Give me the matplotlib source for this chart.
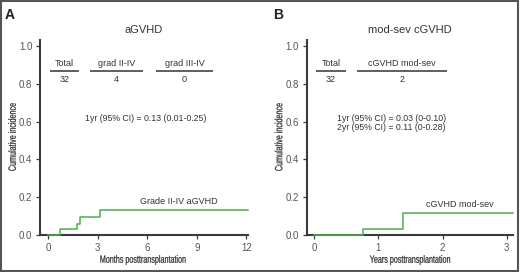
import matplotlib.pyplot as plt
from matplotlib.patches import Rectangle, PathPatch
from matplotlib.textpath import TextPath
from matplotlib.font_manager import FontProperties
from matplotlib.transforms import Affine2D

# Panel A: acute GVHD (months)
times_a = [0, 0.72, 1.77, 1.93, 3.14, 12.1]
cif_a = [0, 0.03, 0.058, 0.094, 0.131, 0.131]
# Panel B: moderate-severe chronic GVHD (years)
times_b = [0, 0.76, 1.39, 3.1]
cif_b = [0, 0.033, 0.115, 0.115]

yticks = [0.0, 0.2, 0.4, 0.6, 0.8, 1.0]
xticks_a = [0, 3, 6, 9, 12]
xticks_b = [0, 1, 2, 3]

table_a = [("Total", "32"), ("grad II-IV", "4"), ("grad III-IV", "0")]
table_b = [("Total", "32"), ("cGVHD mod-sev", "2")]

green = '#4fae4b'
dark = '#333333'
spine_col = '#3a3a3a'
font = ['Liberation Sans', 'DejaVu Sans']

W, H, DPI = 520, 272, 100
fig = plt.figure(figsize=(W / DPI, H / DPI), dpi=DPI)
fig.patches.append(Rectangle((0.002, 0.004), 0.994, 0.992, transform=fig.transFigure,
                             fill=False, edgecolor='#555555', linewidth=1.5))

ax_a = fig.add_axes([40 / W, 1 - 235 / H, 208 / W, 195 / H])
ax_b = fig.add_axes([306.7 / W, 1 - 235 / H, 206.3 / W, 195 / H])


def narrow_text(x_px, y_top_px, s, size=7.6, squeeze=0.68, rotate=False):
    # condensed text drawn as a path; position given in image pixels (from top)
    tp = TextPath((0, 0), s, size=size, prop=FontProperties(family='Liberation Sans'))
    ext = tp.get_extents()
    k = DPI / 72
    tr = Affine2D().translate(-(ext.x0 + ext.x1) / 2, -(ext.y0 + ext.y1) / 2)
    tr = tr.scale(squeeze * k, k)
    if rotate:
        tr = tr.rotate_deg(90)
    tr = tr.translate(x_px, H - y_top_px)
    fig.patches.append(PathPatch(tp, transform=tr, facecolor='#2a2a2a', edgecolor='#2a2a2a',
                                 linewidth=0.15))


def style(ax, xlim, xticks):
    ax.set_xlim(*xlim)
    ax.set_ylim(0, 1.032)
    for s in ['top', 'right']:
        ax.spines[s].set_visible(False)
    for s in ['left', 'bottom']:
        ax.spines[s].set_color(spine_col)
        ax.spines[s].set_linewidth(1.5)
    ax.set_xticks(xticks)
    ax.set_yticks(yticks)
    ax.set_yticklabels([f"{v:.1f}" for v in yticks])
    ax.tick_params(length=3, width=0.9, color=spine_col, labelsize=7,
                   labelcolor='#555555', pad=2.5)
    for lab in ax.get_xticklabels() + ax.get_yticklabels():
        lab.set_family(font)


# Panel A
style(ax_a, (-0.5, 12.1), xticks_a)
ax_a.step(times_a, cif_a, where='post', color=green, lw=1.1, clip_on=False, zorder=3)
ax_a.set_title("aGVHD", family=font, fontsize=8, color=dark, pad=5)
ax_a.text(7.9, 0.177, "Grade II-IV aGVHD", family=font, fontsize=6.5, color=dark,
          ha='center', va='center')
ax_a.text(5.9, 0.615, "1yr (95% CI) = 0.13 (0.01-0.25)", family=font, fontsize=6.3,
          color=dark, ha='center', va='center')
spans_a = [(0.08, 1.85), (2.53, 5.74), (6.55, 9.96)]
for (head, val), (x0, x1) in zip(table_a, spans_a):
    xc = (x0 + x1) / 2
    ax_a.text(xc, 0.91, head, family=font, fontsize=6.5, color=dark, ha='center', va='center')
    ax_a.hlines(0.866, x0, x1, color=dark, lw=1.1)
    ax_a.text(xc, 0.822, val, family=font, fontsize=6.5, color=dark, ha='center', va='center')

# Panel B
style(ax_b, (-0.12, 3.1), xticks_b)
ax_b.step(times_b, cif_b, where='post', color=green, lw=1.1, clip_on=False, zorder=3)
ax_b.set_title("mod-sev cGVHD", family=font, fontsize=8, color=dark, pad=5)
ax_b.text(2.27, 0.16, "cGVHD mod-sev", family=font, fontsize=6.5, color=dark,
          ha='center', va='center')
ax_b.text(1.2, 0.615, "1yr (95% CI) = 0.03 (0-0.10)", family=font, fontsize=6.3,
          color=dark, ha='center', va='center')
ax_b.text(1.2, 0.567, "2yr (95% CI) = 0.11 (0-0.28)", family=font, fontsize=6.3,
          color=dark, ha='center', va='center')
spans_b = [(0.03, 0.49), (0.66, 2.07)]
for (head, val), (x0, x1) in zip(table_b, spans_b):
    xc = (x0 + x1) / 2
    ax_b.text(xc, 0.91, head, family=font, fontsize=6.5, color=dark, ha='center', va='center')
    ax_b.hlines(0.866, x0, x1, color=dark, lw=1.1)
    ax_b.text(xc, 0.822, val, family=font, fontsize=6.5, color=dark, ha='center', va='center')

# condensed axis labels
narrow_text(143, 260, "Months posttransplantation")
narrow_text(410, 260, "Years posttransplantation")
narrow_text(12, 137, "Cumulative incidence", rotate=True)
narrow_text(278.5, 137, "Cumulative incidence", rotate=True)

fig.text(10 / W, 1 - 15 / H, "A", family=font, fontsize=10, fontweight='bold',
         color='#222222', ha='center', va='center')
fig.text(278 / W, 1 - 15 / H, "B", family=font, fontsize=10, fontweight='bold',
         color='#222222', ha='center', va='center')

fig.savefig('out.png', dpi=DPI)
